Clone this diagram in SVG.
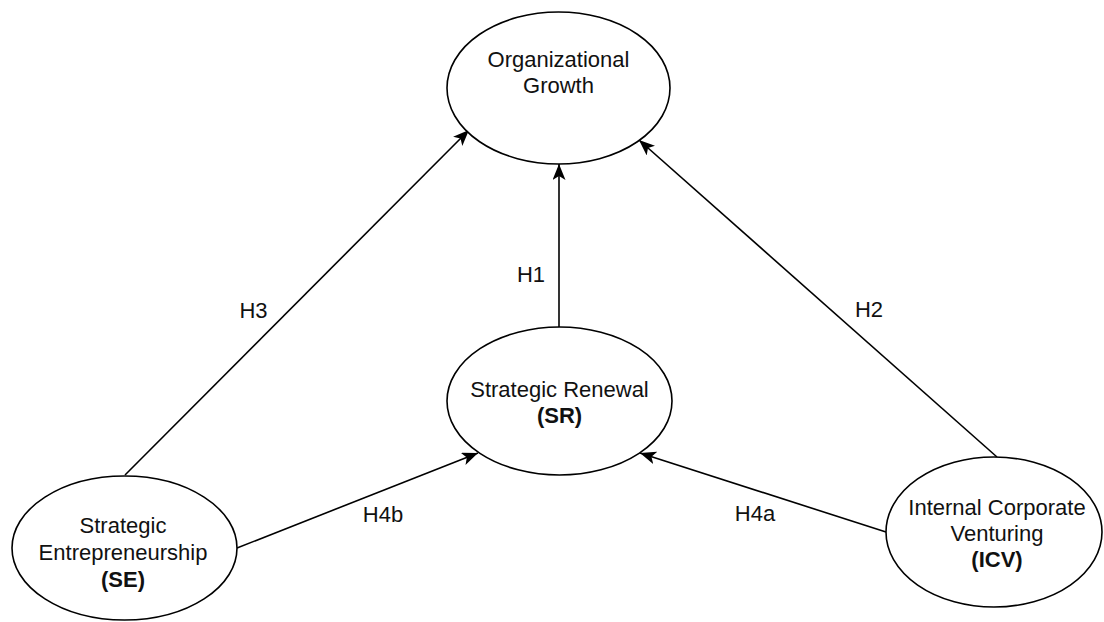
<svg xmlns="http://www.w3.org/2000/svg" width="1104" height="622" viewBox="0 0 1104 622">
  <style>
    .node ellipse { fill: #ffffff; stroke: #000000; stroke-width: 1.6; }
    .node text, .label { font-family: "Liberation Sans", Arial, Helvetica, sans-serif; font-size: 22px; fill: #111111; text-anchor: middle; }
    .edge { fill: none; stroke: #000000; stroke-width: 1.6; marker-end: url(#arrow); }
  </style>
  <defs>
    <!-- notched "classic" arrowhead -->
    <marker id="arrow" markerUnits="userSpaceOnUse" markerWidth="18" markerHeight="14" refX="16" refY="6.5" orient="auto">
      <path d="M0,0 L16,6.5 L0,13 L4,6.5 Z" fill="#000000"/>
    </marker>
  </defs>
  <rect width="1104" height="622" fill="#ffffff"/>

  <!-- connectors and their labels -->
  <g id="connectors">
    <line class="edge" x1="125" y1="475" x2="469" y2="130"/>
    <line class="edge" x1="559" y1="327" x2="559" y2="164"/>
    <line class="edge" x1="997" y1="457" x2="639" y2="140"/>
    <line class="edge" x1="237" y1="548" x2="478" y2="453"/>
    <line class="edge" x1="886" y1="532" x2="640" y2="453"/>
    <text class="label" x="253.5" y="318">H3</text>
    <text class="label" x="531" y="282">H1</text>
    <text class="label" x="869" y="317">H2</text>
    <text class="label" x="383" y="522">H4b</text>
    <text class="label" x="755" y="521">H4a</text>
  </g>

  <!-- Organizational Growth -->
  <g id="node-og" class="node">
    <ellipse cx="558.5" cy="88" rx="111.5" ry="76"/>
    <text x="558.5" y="67">Organizational</text>
    <text x="558.5" y="93">Growth</text>
  </g>

  <!-- Strategic Renewal -->
  <g id="node-sr" class="node">
    <ellipse cx="559.5" cy="401" rx="112.5" ry="74"/>
    <text x="559.5" y="397">Strategic Renewal</text>
    <text x="559.5" y="423" font-weight="bold">(SR)</text>
  </g>

  <!-- Strategic Entrepreneurship -->
  <g id="node-se" class="node">
    <ellipse cx="124.5" cy="548" rx="112.5" ry="72"/>
    <text x="123" y="533">Strategic</text>
    <text x="123" y="560">Entrepreneurship</text>
    <text x="123" y="587" font-weight="bold">(SE)</text>
  </g>

  <!-- Internal Corporate Venturing -->
  <g id="node-icv" class="node">
    <ellipse cx="994" cy="532" rx="108" ry="75"/>
    <text x="997" y="515">Internal Corporate</text>
    <text x="997" y="541">Venturing</text>
    <text x="997" y="567" font-weight="bold">(ICV)</text>
  </g>
</svg>
